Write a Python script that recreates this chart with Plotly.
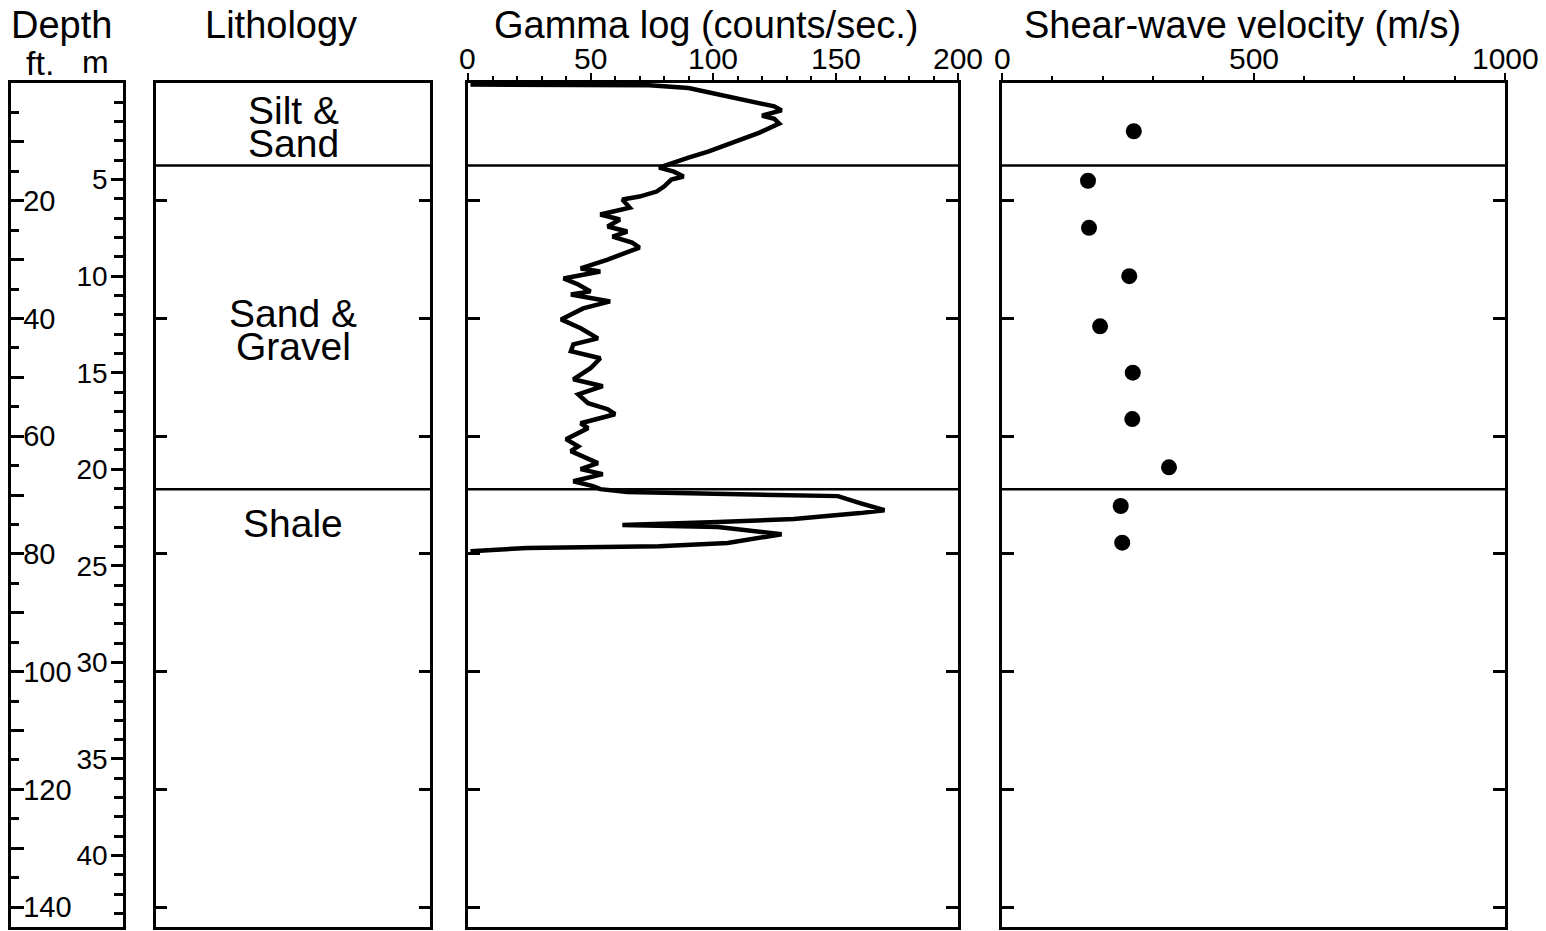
import plotly.graph_objects as go

# ---------------- data ----------------
FT_PER_M = 3.28084
depth_max_m = 43.7

# Gamma log (counts/sec.) vs depth (m)
gamma_depth_m = [0.08, 0.12, 0.26, 0.69, 1.21, 1.42, 1.69, 1.85, 2.10, 2.57,
                 3.09, 3.55, 3.86, 4.12, 4.38, 4.59, 4.84, 5.00, 5.36, 5.62,
                 5.88, 6.03, 6.45, 6.81, 7.07, 7.43, 7.69, 7.95, 8.26, 8.52,
                 9.14, 9.60, 9.76, 10.12, 10.43, 10.79, 10.95, 11.31, 11.67, 12.24,
                 12.70, 13.22, 13.53, 13.89, 14.25, 14.77, 15.34, 15.70, 16.12, 16.58,
                 16.89, 17.15, 17.62, 17.87, 18.44, 18.81, 19.06, 19.68, 19.99, 20.25,
                 20.62, 20.87, 21.03, 21.18, 21.29, 21.39, 21.75, 22.12, 22.27, 22.58,
                 22.73, 22.89, 22.99, 23.36, 23.82, 23.98, 24.08, 24.24]
gamma_cps = [1, 74, 90, 106, 125, 128, 120, 125, 127, 119,
             108, 98, 90, 84, 78, 84, 88, 83, 80, 77,
             70, 63, 66, 54, 62, 57, 65, 59, 67, 70,
             57, 46, 54, 39, 45, 50, 42, 58, 47, 38,
             46, 53, 43, 42, 54, 50, 43, 55, 45, 49,
             57, 60, 46, 49, 40, 45, 42, 53, 46, 55,
             43, 51, 54, 65, 106, 151, 160, 170, 160, 133,
             102, 63, 102, 128, 106, 78, 24, 1]

# Shear-wave velocity (m/s) vs depth (m)
shear_depth_m = [2.5, 5.06, 7.5, 10.0, 12.6, 15.0, 17.4, 19.9, 21.9, 23.8]
shear_vel = [262, 171, 173, 253, 195, 260, 259, 332, 236, 239]

# Lithology
litho_names = ["Silt &<br>Sand", "Sand &<br>Gravel", "Shale"]
litho_top_m = [0.0, 4.27, 21.03]

# Tick labels
ft_major_ticks = list(range(10, 150, 10))
ft_label_ticks = list(range(20, 150, 20))
m_major_ticks = list(range(5, 45, 5))
gamma_ticks = [0, 50, 100, 150, 200]
shear_ticks = [0, 500, 1000]

# ---------------- layout helpers ----------------
W, H = 1546, 931
FONT = "Liberation Sans, Arial, Helvetica, sans-serif"


def px_x(p):
    return p / W


def px_y(p):
    return 1 - p / H


y_dom = [px_y(927), px_y(83)]
side_ticks_m = [f / FT_PER_M for f in ft_label_ticks]
tick_font = dict(size=30, family=FONT, color="black")

fig = go.Figure()

# empty traces so the depth-scale and lithology subplots are created
fig.add_trace(go.Scatter(x=[None], y=[None], xaxis="x", yaxis="y", showlegend=False,
                         hoverinfo="skip"))
fig.add_trace(go.Scatter(x=[None], y=[None], xaxis="x", yaxis="y2", showlegend=False,
                         hoverinfo="skip"))
fig.add_trace(go.Scatter(x=[None], y=[None], xaxis="x2", yaxis="y3", showlegend=False,
                         hoverinfo="skip"))

fig.add_trace(go.Scatter(x=gamma_cps, y=gamma_depth_m, mode="lines",
                         line=dict(color="black", width=4.5),
                         xaxis="x3", yaxis="y4", showlegend=False))
fig.add_trace(go.Scatter(x=shear_vel, y=shear_depth_m, mode="markers",
                         marker=dict(color="black", size=16),
                         xaxis="x4", yaxis="y5", showlegend=False))

box_line = dict(showline=True, linecolor="black", linewidth=3, automargin=False,
                showgrid=False, zeroline=False)

layout = dict(
    width=W, height=H,
    margin=dict(l=0, r=0, t=0, b=0, pad=0),
    paper_bgcolor="white", plot_bgcolor="white",
    font=dict(family=FONT, color="black", size=30),
    showlegend=False,
)

# Depth panel
layout["xaxis"] = dict(domain=[px_x(11), px_x(123)], range=[0, 1], showticklabels=False,
                       ticks="", mirror=True, anchor="y", **box_line)
ft_text = [str(v) if v in ft_label_ticks else "" for v in ft_major_ticks]
layout["yaxis"] = dict(domain=y_dom, range=[depth_max_m * FT_PER_M, 0], anchor="x",
                       side="left", tickvals=ft_major_ticks, ticktext=ft_text,
                       ticks="inside", ticklen=13, tickwidth=3, tickcolor="black",
                       ticklabelposition="inside", ticklabelstandoff=2,
                       minor=dict(dtick=5, tick0=0, ticks="inside", ticklen=8,
                                  tickwidth=3, tickcolor="black"),
                       tickfont=dict(size=29, family=FONT, color="black"), **box_line)
layout["yaxis2"] = dict(range=[depth_max_m, 0], overlaying="y", anchor="x", side="right",
                        tickvals=m_major_ticks, ticktext=[str(v) for v in m_major_ticks],
                        ticks="inside", ticklen=12, tickwidth=3, tickcolor="black",
                        ticklabelposition="inside", ticklabelstandoff=6,
                        minor=dict(dtick=1, tick0=0, ticks="inside", ticklen=9,
                                   tickwidth=3, tickcolor="black"),
                        tickfont=dict(size=28, family=FONT, color="black"), **box_line)

# Lithology panel
layout["xaxis2"] = dict(domain=[px_x(156), px_x(430)], range=[0, 1], showticklabels=False,
                        ticks="", mirror=True, anchor="y3", **box_line)
layout["yaxis3"] = dict(domain=y_dom, range=[depth_max_m, 0], anchor="x2",
                        tickvals=side_ticks_m, showticklabels=False, ticks="inside",
                        ticklen=11, tickwidth=3, tickcolor="black", mirror="ticks",
                        **box_line)

# Gamma panel
layout["xaxis3"] = dict(domain=[px_x(468), px_x(958)], range=[0, 200], side="top",
                        anchor="y4", tickvals=gamma_ticks, showticklabels=False,
                        ticks="outside", ticklen=7, tickwidth=2, tickcolor="black",
                        mirror=True,
                        minor=dict(dtick=10, tick0=0, ticks="outside", ticklen=4,
                                   tickwidth=2, tickcolor="black"),
                        **box_line)
layout["yaxis4"] = dict(domain=y_dom, range=[depth_max_m, 0], anchor="x3",
                        tickvals=side_ticks_m, showticklabels=False, ticks="inside",
                        ticklen=12, tickwidth=3, tickcolor="black", mirror="ticks",
                        **box_line)

# Shear-wave panel
layout["xaxis4"] = dict(domain=[px_x(1002), px_x(1505)], range=[0, 1000], side="top",
                        anchor="y5", tickvals=shear_ticks, showticklabels=False,
                        ticks="outside", ticklen=7, tickwidth=2, tickcolor="black",
                        mirror=True,
                        minor=dict(dtick=100, tick0=0, ticks="outside", ticklen=4,
                                   tickwidth=2, tickcolor="black"),
                        **box_line)
layout["yaxis5"] = dict(domain=y_dom, range=[depth_max_m, 0], anchor="x4",
                        tickvals=side_ticks_m, showticklabels=False, ticks="inside",
                        ticklen=12, tickwidth=3, tickcolor="black", mirror="ticks",
                        **box_line)

fig.update_layout(**layout)

# Top-axis tick labels (placed as text at the axis tick values)
for xr, ticks in [("x3", gamma_ticks), ("x4", shear_ticks)]:
    for v in ticks:
        fig.add_annotation(text=str(v), xref=xr, yref="paper", x=v, y=px_y(59),
                           showarrow=False, font=tick_font,
                           xanchor="center", yanchor="middle")

# Lithology boundary lines across lithology, gamma and shear panels
for top in litho_top_m[1:]:
    for xr, yr in [("x2", "y3"), ("x3", "y4"), ("x4", "y5")]:
        fig.add_shape(type="line", xref=f"{xr} domain", yref=yr, x0=0, x1=1,
                      y0=top, y1=top, line=dict(color="black", width=2.5))

# Lithology labels (each line placed separately for tight line spacing)
label_depth_m = [2.3, 12.8, 22.8]
for name, dep in zip(litho_names, label_depth_m):
    lines = name.split("<br>")
    n = len(lines)
    for i, ln in enumerate(lines):
        shift = ((n - 1) / 2 - i) * 33
        fig.add_annotation(text=ln, xref="x2", yref="y3", x=0.5, y=dep, yshift=shift,
                           showarrow=False, font=dict(size=39, family=FONT, color="black"),
                           xanchor="center", yanchor="middle")

# Headers
headers = [("Depth", 61, 25, 38), ("ft.", 40, 63, 34), ("m", 95, 62, 32),
           ("Lithology", 281, 25, 38), ("Gamma log (counts/sec.)", 706, 25, 38),
           ("Shear-wave velocity (m/s)", 1242, 25, 38)]
for txt, x, y, s in headers:
    fig.add_annotation(text=txt, xref="paper", yref="paper", x=px_x(x), y=px_y(y),
                       showarrow=False, font=dict(size=s, family=FONT, color="black"),
                       xanchor="center", yanchor="middle")

fig.write_html("out.html", config={"displayModeBar": False},
               post_script="document.body.style.margin='0';")
